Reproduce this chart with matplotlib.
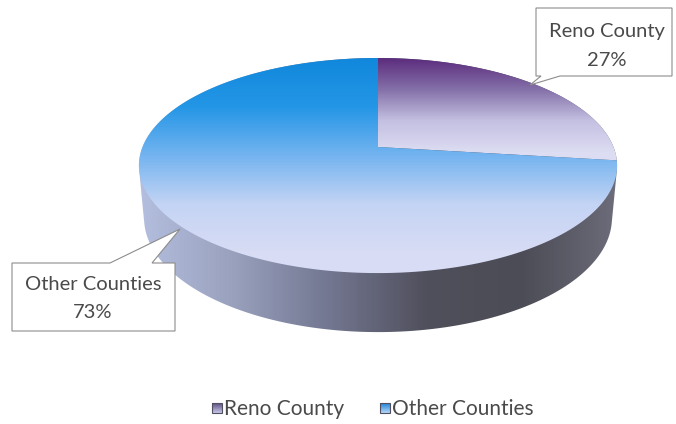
import numpy as np
import matplotlib.pyplot as plt
from matplotlib.patches import Polygon, Rectangle
from matplotlib.colors import LinearSegmentedColormap

# Pie data.
labels = ['Reno County', 'Other Counties']
shares = [27, 73]
pct_labels = ['27%', '73%']

# Gradient stops (top face of each slice, then the rim).
top_colors = [['#5c2c7e', '#8470a8', '#c4c0e2', '#dcdcf2'],
              ['#1188dc', '#2496e6', '#74b4f0', '#c4d4f4', '#d8dcf5']]
legend_colors = [['#5c4c80', '#c8c8e8'], ['#1a80d8', '#b8d8f8']]
rim_colors = ['#b4bede', '#98a0bc', '#727690', '#50505c', '#4c4c56', '#6c6c7a']

W, H = 676, 424
cx, cy = 378., 147.
f, D = 1224.6, 5.2
elev = np.radians(26.3)
depth = 0.25
txt = '#4a4a4a'
font = 'Lato'


# Perspective projection of a point on the tilted disc into pixel coords.
def project(x, y, z):
    s, c = np.sin(elev), np.cos(elev)
    dist = D + y*c - z*s
    return cx + f*x/dist, cy - f*(y*s + z*c)/dist


# Convex hull (monotone chain) for the rim outline.
def hull(pts):
    pts = sorted(map(tuple, pts))
    def cross(o, a, b):
        return (a[0]-o[0])*(b[1]-o[1]) - (a[1]-o[1])*(b[0]-o[0])
    lower, upper = [], []
    for p in pts:
        while len(lower) >= 2 and cross(lower[-2], lower[-1], p) <= 0:
            lower.pop()
        lower.append(p)
    for p in reversed(pts):
        while len(upper) >= 2 and cross(upper[-2], upper[-1], p) <= 0:
            upper.pop()
        upper.append(p)
    return np.array(lower[:-1] + upper[:-1])


# Fills a patch with a linear gradient running along x or y.
def gradient_fill(ax, patch, colors, lo, hi, axis='y'):
    cmap = LinearSegmentedColormap.from_list('g', colors)
    yy, xx = np.mgrid[0:H, 0:W] + 0.5
    v = (yy if axis == 'y' else xx) - lo
    img = cmap(np.clip(v/(hi-lo), 0, 1))
    ax.add_patch(patch)
    im = ax.imshow(img, extent=(0, W, H, 0), interpolation='bilinear', zorder=patch.get_zorder())
    im.set_clip_path(patch)


fig = plt.figure(figsize=(W/100., H/100.), dpi=100)
ax = fig.add_axes([0, 0, 1, 1])
ax.set_xlim(0, W)
ax.set_ylim(H, 0)
ax.axis('off')

# Rim of the disc.
t = np.linspace(0, 2*np.pi, 400)
top = np.column_stack(project(np.cos(t), np.sin(t), 0*t))
bot = np.column_stack(project(np.cos(t), np.sin(t), 0*t - depth))
rim = Polygon(hull(np.vstack([top, bot])), closed=True, fc='none', ec='none', zorder=1)
gradient_fill(ax, rim, rim_colors, top[:, 0].min(), top[:, 0].max(), axis='x')

# Top face slices, clockwise from 12 o'clock.
start = 90.
for i, share in enumerate(shares):
    end = start - 360.*share/sum(shares)
    a = np.radians(np.linspace(start, end, 200))
    px, py = project(np.cos(a), np.sin(a), 0*a)
    vx, vy = project(0., 0., 0.)
    pts = np.vstack([[vx, vy], np.column_stack([px, py])])
    wedge = Polygon(pts, closed=True, fc='none', ec='none', zorder=2)
    lo = top[:, 1].min()
    hi = vy + 5 if i == 0 else top[:, 1].max() - 20
    gradient_fill(ax, wedge, top_colors[i], lo, hi)
    start = end

# Callout boxes with pointer tails.
callouts = [
    [(536, 8), (672, 8), (672, 76), (560, 76), (530, 85), (541, 76), (536, 76)],
    [(12, 263), (110, 263), (180, 229), (152, 263), (175, 263), (175, 331), (12, 331)],
]
for box in callouts:
    ax.add_patch(Polygon(box, closed=True, fc='white', ec='#8c8c8c', lw=0.8, zorder=5))
kw = dict(ha='center', va='center', fontsize=14.5, color=txt, family=font, zorder=6)
ax.text(607, 31, labels[0], **kw)
ax.text(607, 60, pct_labels[0], **kw)
ax.text(93, 285, labels[1], **kw)
ax.text(93, 313, pct_labels[1], **kw)

# Legend.
for i, x0 in enumerate([212, 380]):
    sq = Rectangle((x0, 403), 10, 10, fc='none', ec='none', zorder=3)
    gradient_fill(ax, sq, legend_colors[i], 403, 413)
    ax.add_patch(Rectangle((x0, 403), 10, 10, fc='none', ec='#505060', lw=0.8, zorder=4))
    ax.text(x0 + 12, 409, labels[i], ha='left', va='center', fontsize=15, color=txt, family=font)

fig.savefig('out.png', dpi=100)
